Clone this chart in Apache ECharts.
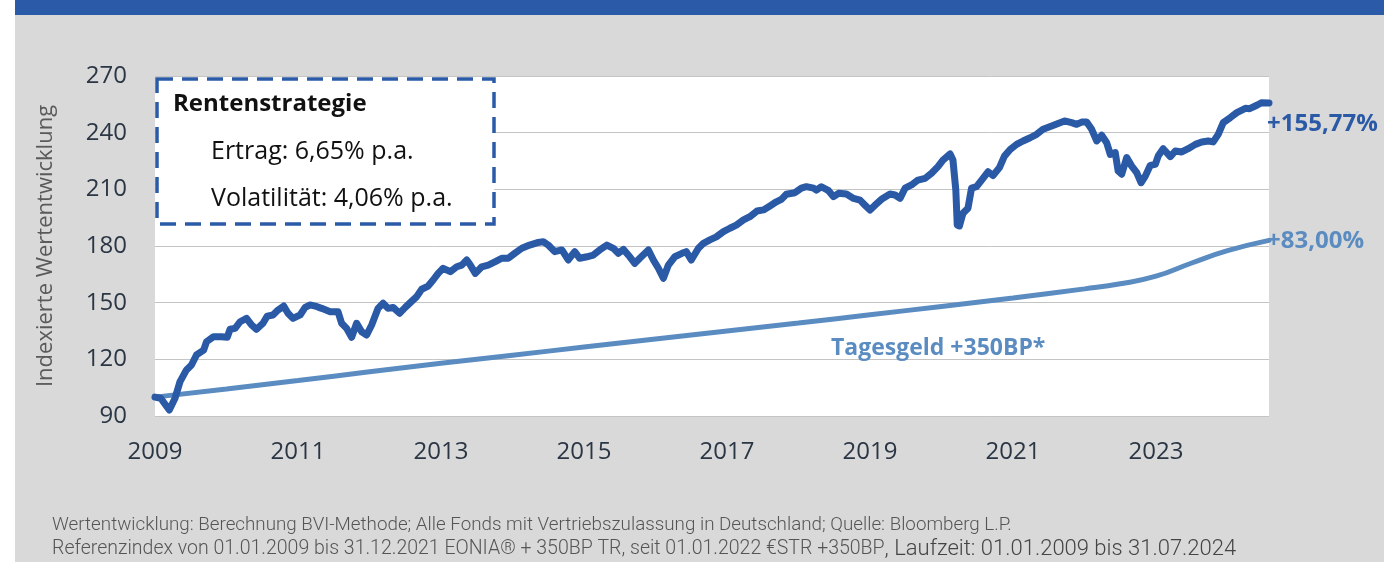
<!DOCTYPE html>
<html>
<head>
<meta charset="utf-8">
<script src="https://cdn.jsdelivr.net/npm/echarts@6/dist/echarts.min.js"></script>
<style>
html, body { margin: 0; padding: 0; background: #fff; }
#main { width: 1384px; height: 562px; background: #d9d9d9; box-shadow: inset 15px 0 0 #fff; }
</style>
</head>
<body>
<div id="main"></div>
<script>
// Rentenstrategie (Index, Start 100) - Jahr als Dezimalzahl
var rsYears = [2009.00, 2009.08, 2009.20, 2009.28, 2009.35, 2009.44, 2009.51, 2009.58, 2009.68, 2009.72, 2009.82, 2009.93,
    2010.01, 2010.05, 2010.12, 2010.19, 2010.28, 2010.35, 2010.42, 2010.51, 2010.57, 2010.65, 2010.72, 2010.80, 2010.86, 2010.93,
    2011.03, 2011.10, 2011.17, 2011.24, 2011.33, 2011.45, 2011.56, 2011.61, 2011.68, 2011.75, 2011.82, 2011.89, 2011.96,
    2012.03, 2012.12, 2012.19, 2012.26, 2012.33, 2012.42, 2012.50, 2012.57, 2012.66, 2012.73, 2012.82, 2012.89, 2012.96,
    2013.03, 2013.13, 2013.22, 2013.29, 2013.36, 2013.41, 2013.48, 2013.57, 2013.66, 2013.76, 2013.85, 2013.94,
    2014.03, 2014.13, 2014.24, 2014.34, 2014.43, 2014.50, 2014.59, 2014.69, 2014.78, 2014.87, 2014.94,
    2015.04, 2015.13, 2015.22, 2015.32, 2015.41, 2015.48, 2015.55, 2015.64, 2015.71, 2015.78, 2015.90, 2015.97,
    2016.04, 2016.11, 2016.18, 2016.27, 2016.37, 2016.43, 2016.50, 2016.60, 2016.67, 2016.76, 2016.85, 2016.95,
    2017.04, 2017.13, 2017.23, 2017.32, 2017.42, 2017.51, 2017.60, 2017.69, 2017.76, 2017.83, 2017.95,
    2018.04, 2018.11, 2018.21, 2018.25, 2018.32, 2018.42, 2018.49, 2018.56, 2018.67, 2018.77, 2018.86, 2018.93,
    2019.00, 2019.07, 2019.16, 2019.28, 2019.35, 2019.42, 2019.49, 2019.58, 2019.67, 2019.77, 2019.86, 2019.95,
    2020.02, 2020.12, 2020.16, 2020.20, 2020.22, 2020.25, 2020.30, 2020.37, 2020.42, 2020.49, 2020.58, 2020.65, 2020.72, 2020.81, 2020.88, 2020.96,
    2021.05, 2021.14, 2021.24, 2021.33, 2021.42, 2021.54, 2021.63, 2021.72, 2021.82, 2021.89, 2021.96,
    2022.03, 2022.10, 2022.17, 2022.24, 2022.31, 2022.36, 2022.43, 2022.47, 2022.52, 2022.59, 2022.66, 2022.73, 2022.79, 2022.85, 2022.92, 2022.99,
    2023.03, 2023.10, 2023.20, 2023.27, 2023.36, 2023.45, 2023.55, 2023.64, 2023.73, 2023.80, 2023.87, 2023.94,
    2024.04, 2024.13, 2024.25, 2024.31, 2024.41, 2024.48, 2024.58];
var rsValues = [100, 99.4, 93.2, 99.4, 108.2, 114.4, 117, 122.3, 124.9, 129.3, 132, 132,
    131.7, 135.9, 136.4, 139.9, 141.7, 138.2, 135.9, 139.1, 142.9, 143.5, 146.1, 148.2, 144.4, 141.7,
    143.5, 147.5, 148.8, 148.2, 147, 145.2, 145.2, 139.1, 136.4, 131.7, 139.1, 134.6, 132.9,
    138.2, 147, 149.7, 147, 147.5, 144.4, 147.5, 150, 153.2, 157.1, 158.8, 162, 165.5,
    168.2, 166.4, 169, 169.9, 172.6, 169.9, 165.5, 169, 169.9, 171.7, 173.5, 173.5,
    176.1, 178.8, 180.5, 181.7, 182.3, 180.5, 177, 177.9, 172.6, 177, 173.5,
    174.3, 175.2, 177.9, 180.5, 178.8, 176.1, 178.2, 174.3, 170.8, 173.5, 177.9, 172.6,
    168.2, 162.9, 169.9, 174.3, 176.1, 177, 172.6, 178.8, 181.4, 183.2, 184.8, 187.6,
    189.4, 191.1, 193.8, 195.5, 198.5, 199.1, 201.2, 203.4, 204.7, 207.4, 208.2,
    210.6, 211.4, 210.6, 209.6, 211.4, 209.3, 206.1, 207.9, 207.5, 205.2, 204.3, 201.6,
    199, 201.6, 204.7, 207.5, 207, 205.2, 210.6, 212.3, 214.9, 215.8, 218.5, 222,
    225.5, 228.7, 225.5, 209.6, 191.1, 190.6, 197.3, 200, 210.6, 211.4, 215.8, 219.3, 217.3, 221.5, 227.6, 231.1,
    233.8, 235.6, 237.3, 239.1, 241.8, 243.5, 244.9, 246.2, 245.3, 244.4, 245.6,
    245.6, 241.8, 235.6, 238.6, 234.7, 228.5, 229.4, 219.7, 218, 226.8, 222.3, 218.8, 213.5, 217, 222.7, 223.2,
    227.6, 231.5, 227.3, 230.3, 229.8, 231.5, 233.8, 235.1, 235.6, 235.1, 239.1, 245.3,
    248, 250.6, 252.9, 252.7, 254.5, 255.9, 255.77];

// Tagesgeld +350BP (Index, Start 100)
var tgYears = [2009, 2010, 2011, 2012, 2013, 2014, 2015, 2016, 2017, 2018, 2019, 2020, 2021, 2022, 2022.5, 2023, 2023.5, 2024, 2024.58];
var tgValues = [100, 104.3, 108.8, 113.4, 117.9, 122.2, 126.5, 130.8, 135.0, 139.2, 143.6, 148.0, 152.5, 157.3, 160, 164, 171, 177.5, 183];

var startYear = 2009;
var endYear = 2024.58;
var yMin = 90, yMax = 270, yStep = 30;
var xStep = 2;

var dunkelBlau = '#2a59a6';
var hellBlau = '#5b8cc1';
var tickFarbe = '#2b3645';

function to_pairs(years, values) { //Jahr -> Abstand vom Startjahr
    var res = [];
    for (var i = 0; i < years.length; i++) {
        res.push([years[i] - startYear, values[i]]);
    }
    return res;
}

var chart = echarts.init(document.getElementById('main'));
var option = {
    animation: false,
    backgroundColor: 'transparent',
    grid: {
        left: 155, top: 76, width: 1114, height: 340,
        show: true, backgroundColor: '#ffffff', borderWidth: 0
    },
    xAxis: {
        type: 'value',
        min: 0,
        max: endYear - startYear,
        interval: xStep,
        axisLine: { show: false },
        axisTick: { show: false },
        splitLine: { show: false },
        axisLabel: {
            showMaxLabel: false,
            margin: 24,
            color: tickFarbe,
            fontFamily: 'Open Sans',
            fontSize: 24,
            formatter: function (v) { return String(v + startYear); }
        }
    },
    yAxis: {
        type: 'value',
        min: yMin, max: yMax, interval: yStep,
        name: 'Indexierte Wertentwicklung',
        nameLocation: 'middle',
        nameGap: 98,
        nameTextStyle: { color: '#5a5a5a', fontFamily: 'Open Sans', fontSize: 22 },
        axisLine: { show: false },
        axisTick: { show: false },
        splitLine: { lineStyle: { color: '#c4c4c4', width: 1 } },
        axisLabel: { margin: 28, color: tickFarbe, fontFamily: 'Open Sans', fontSize: 24 }
    },
    series: [{
        name: 'Tagesgeld +350BP*',
        type: 'line',
        data: to_pairs(tgYears, tgValues),
        smooth: true,
        showSymbol: false,
        lineStyle: { color: hellBlau, width: 5, cap: 'round' },
        endLabel: {
            show: true, distance: 0, offset: [-2, 1],
            formatter: '+83,00%',
            color: hellBlau, fontFamily: 'Open Sans', fontWeight: 'bold', fontSize: 24
        },
        z: 2
    }, {
        name: 'Rentenstrategie',
        type: 'line',
        data: to_pairs(rsYears, rsValues),
        showSymbol: false,
        lineStyle: { color: dunkelBlau, width: 7, cap: 'round', join: 'round' },
        endLabel: {
            show: true, distance: 0, offset: [-2, 21],
            formatter: '+155,77%',
            color: dunkelBlau, fontFamily: 'Open Sans', fontWeight: 'bold', fontSize: 24
        },
        z: 3
    }],
    graphic: [
        { type: 'rect', z: 100, shape: { x: 15, y: 0, width: 1369, height: 15 }, style: { fill: '#2b5ba8' } },
        { //Legende-Kasten
            type: 'rect', z: 100,
            shape: { x: 157, y: 79, width: 337, height: 145 },
            style: { fill: '#ffffff', stroke: '#2b5ba8', lineWidth: 3.5, lineDash: [16, 9] }
        },
        { type: 'text', z: 101, x: 173, y: 104,
            style: { text: 'Rentenstrategie', fill: '#111', font: 'bold 24px "Open Sans"', verticalAlign: 'middle' } },
        { type: 'text', z: 101, x: 211, y: 152,
            style: { text: 'Ertrag: 6,65% p.a.', fill: '#111', font: '25px "Open Sans"', verticalAlign: 'middle' } },
        { type: 'text', z: 101, x: 211, y: 199,
            style: { text: 'Volatilität: 4,06% p.a.', fill: '#111', font: '25px "Open Sans"', verticalAlign: 'middle' } },
        { type: 'text', z: 101, x: 831, y: 348,
            style: { text: 'Tagesgeld +350BP*', fill: hellBlau, font: 'bold 23px "Open Sans"', verticalAlign: 'middle' } },
        { //Fussnote
            type: 'text', z: 101, x: 52, y: 525,
            style: {
                text: 'Wertentwicklung: Berechnung BVI-Methode; Alle Fonds mit Vertriebszulassung in Deutschland; Quelle: Bloomberg L.P.',
                fill: '#555', font: '300 18.8px Roboto', verticalAlign: 'middle'
            }
        },
        {
            type: 'text', z: 101, x: 52, y: 549,
            style: {
                text: '{a|Referenzindex von 01.01.2009 bis 31.12.2021 EONIA® + 350BP TR, seit 01.01.2022 €STR +350BP}{b|, Laufzeit: 01.01.2009 bis 31.07.2024}',
                verticalAlign: 'middle',
                rich: {
                    a: { fill: '#555', fontFamily: 'Roboto', fontWeight: 300, fontSize: 19.5 },
                    b: { fill: '#444', fontFamily: 'Roboto', fontWeight: 300, fontSize: 22 }
                }
            }
        }
    ]
};
chart.setOption(option);
</script>
</body>
</html>
